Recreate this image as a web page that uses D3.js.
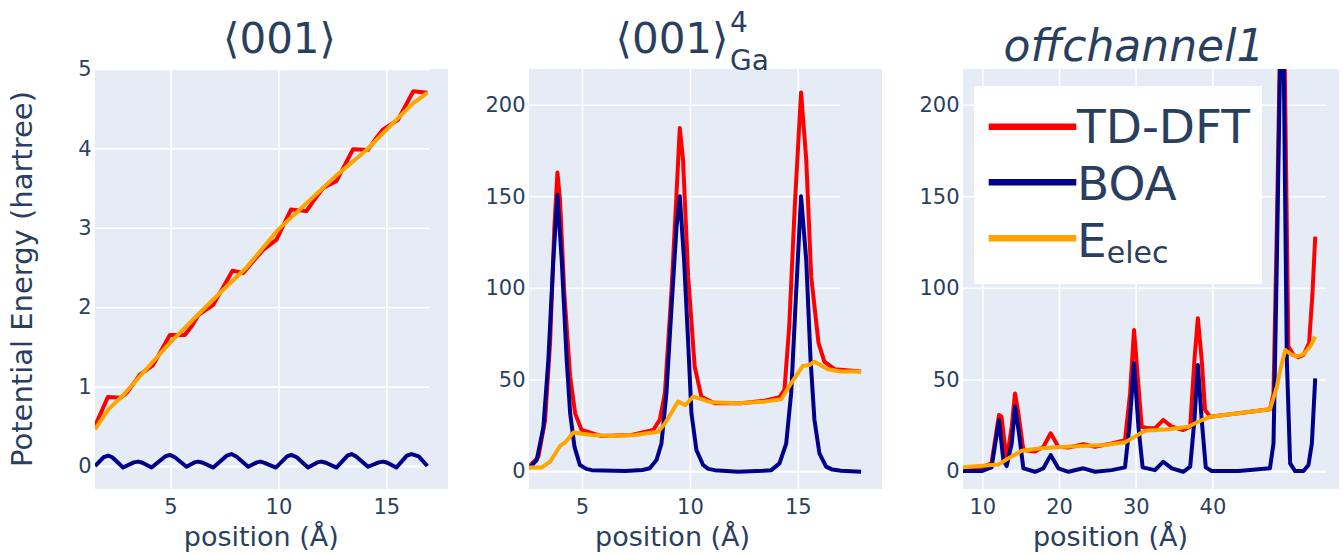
<!DOCTYPE html>
<html><head><meta charset="utf-8">
<script src="https://cdn.jsdelivr.net/npm/d3@7"></script>
<style>
html,body{margin:0;padding:0;background:#fff;}
svg text{font-family:"DejaVu Sans",Verdana,sans-serif;fill:#2a3f5f;}
</style></head>
<body><svg id="chart" width="1343" height="555"></svg>
<script>
// ---------------- data ----------------
const seriesNames = ["TD-DFT", "BOA", "Eelec"];
const panelTitles = ["⟨001⟩", "⟨001⟩", "offchannel1"];
const xAxisTitle = "position (Å)";
const yAxisTitle = "Potential Energy (hartree)";

const p1XTicks = [5, 10, 15];
const p2XTicks = [5, 10, 15];
const p3XTicks = [10, 20, 30, 40];
const p1YTicks = [0, 1, 2, 3, 4, 5];
const p2YTicks = [0, 50, 100, 150, 200];
const p3YTicks = [0, 50, 100, 150, 200];

// panel 1  <001>
const p1TDDFT = [[1.5,0.50],[2.1,0.87],[2.7,0.86],[3.0,0.93],[3.58,1.15],[4.19,1.27],[4.97,1.65],[5.66,1.65],[6.0,1.77],[6.28,1.90],[6.98,2.03],[7.87,2.46],[8.37,2.43],[8.8,2.57],[9.29,2.72],[9.91,2.85],[10.58,3.23],[11.3,3.21],[11.6,3.33],[12.07,3.50],[12.69,3.59],[13.46,3.99],[14.15,3.98],[14.5,4.12],[14.85,4.24],[15.54,4.36],[16.25,4.72],[16.9,4.70]];
const p1BOA = [[1.5,0.0],[1.9,0.11],[2.11,0.13],[2.3,0.11],[2.8,-0.02],[3.3,0.045],[3.5,0.055],[3.7,0.04],[4.12,-0.02],[4.75,0.12],[4.97,0.14],[5.2,0.11],[5.74,-0.01],[6.1,0.045],[6.28,0.055],[6.5,0.04],[6.98,-0.02],[7.6,0.13],[7.82,0.15],[8.05,0.12],[8.6,-0.01],[9.0,0.045],[9.17,0.055],[9.35,0.04],[9.88,-0.02],[10.4,0.12],[10.6,0.14],[10.85,0.11],[11.37,-0.02],[11.8,0.045],[11.99,0.055],[12.2,0.04],[12.69,-0.02],[13.2,0.13],[13.39,0.15],[13.6,0.12],[14.15,-0.01],[14.65,0.045],[14.85,0.055],[15.05,0.04],[15.46,-0.02],[15.95,0.13],[16.17,0.15],[16.5,0.12],[16.9,0.0]];
const p1Eelec = [[1.5,0.46],[2.11,0.71],[2.8,0.89],[3.58,1.13],[4.97,1.55],[6.36,1.93],[7.44,2.22],[8.52,2.50],[10.0,2.98],[11.3,3.31],[12.69,3.66],[14.08,3.98],[15.46,4.36],[16.25,4.57],[16.9,4.70]];

// panel 2  <001>^4_Ga
const p2TDDFT = [[2.54,2.4],[2.98,7.8],[3.29,27.9],[3.52,69.8],[3.72,133.5],[3.86,163],[3.98,148],[4.18,97],[4.45,51.5],[4.68,31.5],[4.98,22.4],[5.91,19.1],[7.3,19.7],[8.3,22.4],[8.6,27.9],[8.84,42.4],[9.14,97],[9.38,151.7],[9.53,187.3],[9.68,170],[9.92,106],[10.22,57],[10.53,40.6],[11.15,37],[12.38,37],[13.46,38.4],[14.15,40.3],[14.38,44.3],[14.6,78.9],[14.85,142.6],[15.15,206.7],[15.39,170],[15.62,106],[15.96,69.8],[16.23,59.7],[16.7,55.6],[17.93,54.3]];
const p2BOA = [[2.54,1.5],[2.9,6],[3.21,24],[3.44,60.7],[3.67,115],[3.86,150.8],[4.06,115],[4.29,60.7],[4.45,31.5],[4.65,13.3],[4.9,3.3],[5.2,1.2],[5.45,0.5],[7.0,0],[7.8,0.6],[8.14,1.5],[8.45,6],[8.68,15],[8.91,42.4],[9.14,88],[9.38,133.5],[9.53,150],[9.73,115],[9.92,69.8],[10.07,31.5],[10.3,11.5],[10.61,3.3],[10.85,1.2],[11.15,0.5],[12.23,-0.4],[13.4,0.2],[13.77,0.5],[14.15,4.2],[14.46,15],[14.69,42.4],[14.92,97],[15.15,150],[15.39,115],[15.59,60.7],[15.77,27.9],[16.0,9.7],[16.31,2.4],[16.6,0.8],[17.0,0.2],[17.93,-0.4]];
const p2Eelec = [[2.54,2],[3.14,2],[3.52,5.1],[3.98,13.7],[4.21,15.5],[4.6,21.1],[5.45,19.7],[6.37,19.1],[7.45,19.7],[8.53,21.5],[8.84,26],[9.45,37.9],[9.79,36],[10.15,40.6],[11.0,37.5],[12.23,37],[13.46,37.9],[14.23,39.2],[14.69,47.9],[15.23,57.4],[15.54,57.9],[15.77,59.7],[16.39,55.6],[17.0,54.3],[17.93,54.3]];

// panel 3  offchannel1
const p3TDDFT = [[7.39,1.5],[9.9,2],[11.2,4.2],[12.17,30.6],[12.5,29.7],[13.17,6],[13.83,24.2],[14.26,42.4],[14.7,31.5],[15.35,11.5],[16.87,10.6],[17.96,13.3],[18.91,20.6],[19.91,13.3],[21.22,12.9],[23.17,14.6],[24.7,13.3],[26.87,15.1],[28.6,16.9],[29.26,42.4],[29.78,77],[30.26,51.5],[30.78,24.2],[31.65,23.3],[32.5,23.3],[33.6,27.9],[34.7,24.2],[36.2,22.4],[37.1,24.2],[37.65,60.7],[38.1,83.4],[38.6,60.7],[39.04,33.3],[39.7,29.7],[43.4,31.5],[47.5,33.7],[47.96,42.4],[48.4,133.5],[48.9,255],[49.4,230],[49.9,68],[50.57,63.4],[51.2,62.1],[51.87,63.4],[52.6,69.8],[53.04,97],[53.4,128]];
const p3BOA = [[7.39,0],[9.9,0],[11.2,2],[12.17,27.9],[12.74,6],[13.17,2.7],[13.83,15],[14.26,35.2],[14.78,20.6],[15.35,1.5],[16.87,-0.4],[17.96,1.5],[18.91,8.7],[19.91,1.5],[21.22,-0.4],[23.17,1.5],[24.7,-0.4],[26.87,0.5],[28.6,2],[29.17,24.2],[29.78,58.8],[30.35,24.2],[30.9,2],[32.5,0.5],[33.6,5.1],[34.7,1.5],[36.2,-0.4],[37.1,2.4],[37.65,27.9],[38.1,57.9],[38.6,27.9],[39.13,2],[39.9,0],[43.4,0],[47.5,1.5],[47.96,15],[48.4,115],[48.9,245],[49.3,220],[49.7,60.7],[50.13,4.2],[50.78,0],[51.87,0],[52.52,3.3],[52.96,15],[53.4,50.6]];
const p3Eelec = [[7.39,2],[12.09,3.6],[13.39,6.9],[15.13,11.1],[17.74,12.4],[20.78,13.3],[23.83,13.8],[26.0,14.2],[28.6,15.7],[29.9,18.8],[31.2,22],[34.26,22.8],[36.87,24.2],[38.17,27],[39.7,29.7],[43.4,31.5],[47.5,33.7],[48.4,46],[48.83,55.2],[49.5,66.1],[50.35,63.4],[51.0,62.5],[51.87,63.8],[52.74,68],[53.4,73.4]];

// ---------------- drawing ----------------
const colors = ["#ff0000", "#00008b", "#ffa500"];
const svg = d3.select("#chart");
const TOP = 69, BOTTOM = 489;

const panels = [
  {left:95, right:448, gridEnd:429.5, xDomain:[1.5,17.0], xRangeEnd:429.5, yDomain:[-0.29,5], xTicks:p1XTicks, yTicks:p1YTicks, series:[p1TDDFT,p1BOA,p1Eelec], xTitleX:261.3},
  {left:529, right:882, gridEnd:840, xDomain:[2.543,18.9], xRangeEnd:882, yDomain:[-9.8,219.5], xTicks:p2XTicks, yTicks:p2YTicks, series:[p2TDDFT,p2BOA,p2Eelec], xTitleX:672.6},
  {left:963, right:1339, gridEnd:1326, xDomain:[7.48,56.5], xRangeEnd:1339, yDomain:[-9.8,219.5], xTicks:p3XTicks, yTicks:p3YTicks, series:[p3TDDFT,p3BOA,p3Eelec], xTitleX:1110.5}
];

panels.forEach((p, i) => {
  const g = svg.append("g");
  g.append("rect").attr("x", p.left).attr("y", TOP).attr("width", p.right - p.left).attr("height", BOTTOM - TOP).attr("fill", "#E5ECF6");
  const x = d3.scaleLinear().domain(p.xDomain).range([p.left, p.xRangeEnd]);
  const y = d3.scaleLinear().domain(p.yDomain).range([BOTTOM, TOP]);

  // x axis: vertical gridlines + labels
  const xa = g.append("g").attr("transform", `translate(0,${BOTTOM})`)
    .call(d3.axisBottom(x).tickValues(p.xTicks).tickSize(-(BOTTOM - TOP)).tickPadding(10).tickFormat(d3.format("d")));
  xa.select(".domain").remove();
  xa.selectAll("line").attr("stroke", "#fff").attr("stroke-width", 1.6);
  xa.selectAll("text").attr("font-size", 21).attr("fill", "#2a3f5f");

  // y axis: horizontal gridlines + labels
  const ya = g.append("g").attr("transform", `translate(${p.left},0)`)
    .call(d3.axisLeft(y).tickValues(p.yTicks).tickSizeInner(-(p.gridEnd - p.left)).tickSizeOuter(0).tickPadding(3.5).tickFormat(d3.format("d")));
  ya.select(".domain").remove();
  ya.selectAll("line").attr("stroke", "#fff").attr("stroke-width", d => d === 0 ? 2.2 : 1.6);
  ya.selectAll("text").attr("font-size", 21).attr("fill", "#2a3f5f");

  // clip
  svg.append("clipPath").attr("id", "clip" + i).append("rect")
    .attr("x", p.left).attr("y", TOP).attr("width", p.right - p.left).attr("height", BOTTOM - TOP);
  const line = d3.line().x(d => x(d[0])).y(d => y(d[1]));
  const lg = g.append("g").attr("clip-path", `url(#clip${i})`);
  p.series.forEach((s, k) => {
    lg.append("path").datum(s).attr("d", line).attr("fill", "none")
      .attr("stroke", colors[k]).attr("stroke-width", 4).attr("stroke-linejoin", "round");
  });

  // x title
  g.append("text").attr("x", p.xTitleX).attr("y", 546).attr("text-anchor", "middle")
    .attr("font-size", 27).text(xAxisTitle);
});

// y title
svg.append("text").attr("transform", "translate(32,279) rotate(-90)").attr("text-anchor", "middle")
  .attr("font-size", 29).text(yAxisTitle);

// panel titles
svg.append("text").attr("x", 279.5).attr("y", 53).attr("text-anchor", "middle").attr("font-size", 42).text(panelTitles[0]);
svg.append("text").attr("x", 672).attr("y", 53).attr("text-anchor", "middle").attr("font-size", 42).text(panelTitles[1]);
svg.append("text").attr("x", 730).attr("y", 32).attr("font-size", 28).text("4");
svg.append("text").attr("x", 730).attr("y", 70).attr("font-size", 28).text("Ga");
svg.append("text").attr("x", 1134).attr("y", 61).attr("text-anchor", "middle").attr("font-size", 44)
  .attr("font-style", "italic").text(panelTitles[2]);

// legend
const leg = svg.append("g");
leg.append("rect").attr("x", 974).attr("y", 86).attr("width", 288).attr("height", 198).attr("fill", "#fff");
const legY = [126.7, 182.3, 238.3];
seriesNames.forEach((n, k) => {
  leg.append("line").attr("x1", 988.7).attr("x2", 1076.3).attr("y1", legY[k]).attr("y2", legY[k])
    .attr("stroke", colors[k]).attr("stroke-width", 6.5);
});
leg.append("text").attr("x", 1077).attr("y", 143).attr("font-size", 47).text("TD-DFT");
leg.append("text").attr("x", 1077).attr("y", 200).attr("font-size", 47).text("BOA");
const et = leg.append("text").attr("x", 1077).attr("y", 257).attr("font-size", 47);
et.append("tspan").text("E");
et.append("tspan").attr("font-size", 30).attr("dy", 6).text("elec");
</script>
</body></html>
